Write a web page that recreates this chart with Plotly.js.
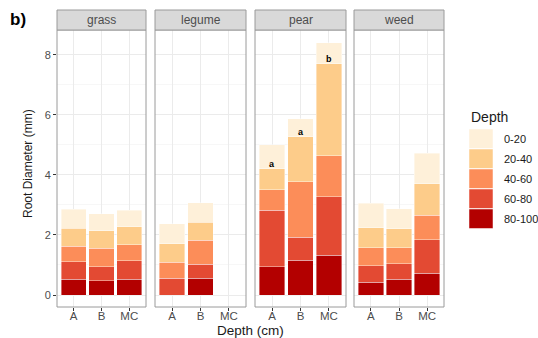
<!DOCTYPE html>
<html>
<head>
<meta charset="utf-8">
<script src="https://cdn.plot.ly/plotly-3.0.1.min.js"></script>
<style>html,body{margin:0;padding:0;background:#fff;}#chart{width:538px;height:338px;}</style>
</head>
<body>
<div id="chart"></div>
<script>
// ---- data ----
var panels = ["grass", "legume", "pear", "weed"];
var sites = ["A", "B", "MC"];
var depths = ["0-20", "20-40", "40-60", "60-80", "80-100"];
var depthColors = ["#FEF0D9", "#FDCC8A", "#FC8D59", "#E34A33", "#B30000"];

// values per depth for sites A, B, MC
var grass = {
  "0-20":   [0.64, 0.57, 0.54],
  "20-40":  [0.59, 0.58, 0.61],
  "40-60":  [0.53, 0.62, 0.53],
  "60-80":  [0.57, 0.47, 0.62],
  "80-100": [0.53, 0.47, 0.52]
};
var legume = {
  "0-20":   [0.67, 0.65, null],
  "20-40":  [0.61, 0.60, null],
  "40-60":  [0.53, 0.80, null],
  "60-80":  [0.56, 0.47, null],
  "80-100": [null, 0.56, null]
};
var pear = {
  "0-20":   [0.80, 0.61, 0.70],
  "20-40":  [0.70, 1.49, 3.06],
  "40-60":  [0.68, 1.85, 1.37],
  "60-80":  [1.88, 0.77, 1.95],
  "80-100": [0.94, 1.16, 1.32]
};
var weed = {
  "0-20":   [0.82, 0.68, 1.02],
  "20-40":  [0.66, 0.62, 1.04],
  "40-60":  [0.60, 0.54, 0.82],
  "60-80":  [0.55, 0.52, 1.12],
  "80-100": [0.43, 0.52, 0.72]
};
var panelData = [grass, legume, pear, weed];
var pearLetters = ["a", "a", "b"];
var yTicks = [0, 2, 4, 6, 8];

// ---- layout geometry ----
var W = 538, H = 338;
var panelPx = [[57, 146], [155, 246], [255, 346], [354, 444]];
var plotTop = 30, plotBottom = 307, stripTop = 10;
var yDomain = [1 - plotBottom / H, 1 - plotTop / H];
var font = "Liberation Sans, Arial, Helvetica, sans-serif";

var traces = [];
var layout = {
  width: W, height: H,
  margin: {l: 0, r: 0, t: 0, b: 0},
  paper_bgcolor: "#ffffff",
  plot_bgcolor: "#ffffff",
  barmode: "stack",
  bargap: 0.1,
  showlegend: false,
  font: {family: font},
  shapes: [],
  annotations: []
};

panels.forEach(function (p, i) {
  var xa = i === 0 ? "x" : "x" + (i + 1);
  var xkey = i === 0 ? "xaxis" : "xaxis" + (i + 1);
  // bottom first: reverse depth order
  for (var d = depths.length - 1; d >= 0; d--) {
    traces.push({
      type: "bar",
      x: sites,
      y: panelData[i][depths[d]],
      xaxis: xa,
      yaxis: "y",
      name: depths[d],
      marker: {color: depthColors[d], line: {color: "#ffffff", width: 0.4}},
      hoverinfo: "x+y+name"
    });
  }
  layout[xkey] = {
    domain: [panelPx[i][0] / W, panelPx[i][1] / W],
    anchor: "y",
    type: "category",
    categoryorder: "array",
    categoryarray: sites,
    range: [-0.6, 2.6],
    showgrid: true,
    gridcolor: "#EBEBEB",
    gridwidth: 1,
    zeroline: false,
    showline: false,
    ticks: "outside",
    ticklen: 3,
    tickcolor: "#333333",
    ticklabelstandoff: -5,
    tickfont: {family: font, size: 11.5, color: "#4D4D4D"},
    fixedrange: true
  };
  // panel border
  layout.shapes.push({
    type: "rect", xref: "paper", yref: "paper",
    x0: panelPx[i][0] / W, x1: panelPx[i][1] / W,
    y0: yDomain[0], y1: yDomain[1],
    line: {color: "#9A9A9A", width: 1}, fillcolor: "rgba(0,0,0,0)", layer: "above"
  });
  // strip
  layout.shapes.push({
    type: "rect", xref: "paper", yref: "paper",
    x0: panelPx[i][0] / W, x1: panelPx[i][1] / W,
    y0: 1 - plotTop / H, y1: 1 - stripTop / H,
    line: {color: "#9A9A9A", width: 1}, fillcolor: "#D9D9D9", layer: "above"
  });
  layout.annotations.push({
    xref: "paper", yref: "paper",
    x: (panelPx[i][0] + panelPx[i][1]) / 2 / W,
    y: 1 - (plotTop + stripTop) / 2 / H,
    text: p, showarrow: false,
    xanchor: "center", yanchor: "middle",
    font: {family: font, size: 12, color: "#4D4D4D"}
  });
});

layout.yaxis = {
  domain: yDomain,
  anchor: "x",
  range: [-0.4, 8.83],
  tickvals: yTicks,
  showgrid: true,
  gridcolor: "#EBEBEB",
  gridwidth: 1,
  minor: {dtick: 1, tick0: 0, showgrid: true, gridcolor: "#F2F2F2", gridwidth: 0.6, ticks: ""},
  zeroline: false,
  showline: false,
  ticks: "outside",
  ticklen: 3,
  tickcolor: "#333333",
  tickfont: {family: font, size: 11, color: "#4D4D4D"},
  fixedrange: true
};

// letter labels on pear bars, at the top of the 20-40 segment
sites.forEach(function (s, j) {
  var cum = 0;
  for (var d = depths.length - 1; d >= 1; d--) cum += pear[depths[d]][j] || 0;
  layout.annotations.push({
    xref: "x3", yref: "y", x: s, y: cum,
    text: "<b>" + pearLetters[j] + "</b>", showarrow: false,
    xanchor: "center", yanchor: "bottom", yshift: -2,
    font: {family: font, size: 9, color: "#000000"}
  });
});

// axis titles
layout.annotations.push({
  xref: "paper", yref: "paper", x: 250 / W, y: 1 - 330 / H,
  text: "Depth (cm)", showarrow: false, xanchor: "center", yanchor: "middle",
  font: {family: font, size: 13.5, color: "#1A1A1A"}
});
layout.annotations.push({
  xref: "paper", yref: "paper", x: 28 / W, y: 1 - 164 / H,
  text: "Root Diameter (mm)", showarrow: false, textangle: -90,
  xanchor: "center", yanchor: "middle",
  font: {family: font, size: 12, color: "#1A1A1A"}
});
// panel tag
layout.annotations.push({
  xref: "paper", yref: "paper", x: 8 / W, y: 1 - 20 / H,
  text: "<b>b)</b>", showarrow: false, xanchor: "left", yanchor: "middle",
  font: {family: font, size: 17, color: "#000000"}
});

// manual legend (ggplot style keys)
layout.annotations.push({
  xref: "paper", yref: "paper", x: 469 / W, y: 1 - 117 / H,
  text: "Depth", showarrow: false, xanchor: "left", yanchor: "middle",
  font: {family: font, size: 14, color: "#1A1A1A"}
});
depths.forEach(function (d, k) {
  var top = 129 + k * 20, bot = top + 19.5;
  layout.shapes.push({
    type: "rect", xref: "paper", yref: "paper",
    x0: 469 / W, x1: 493 / W, y0: 1 - bot / H, y1: 1 - top / H,
    line: {color: "#ffffff", width: 0.5}, fillcolor: depthColors[k]
  });
  layout.annotations.push({
    xref: "paper", yref: "paper", x: 502 / W, y: 1 - (top + 10) / H,
    text: d, showarrow: false, xanchor: "left", yanchor: "middle",
    font: {family: font, size: 11, color: "#1A1A1A"}
  });
});

Plotly.newPlot("chart", traces, layout, {displayModeBar: false, staticPlot: true});
</script>
</body>
</html>
